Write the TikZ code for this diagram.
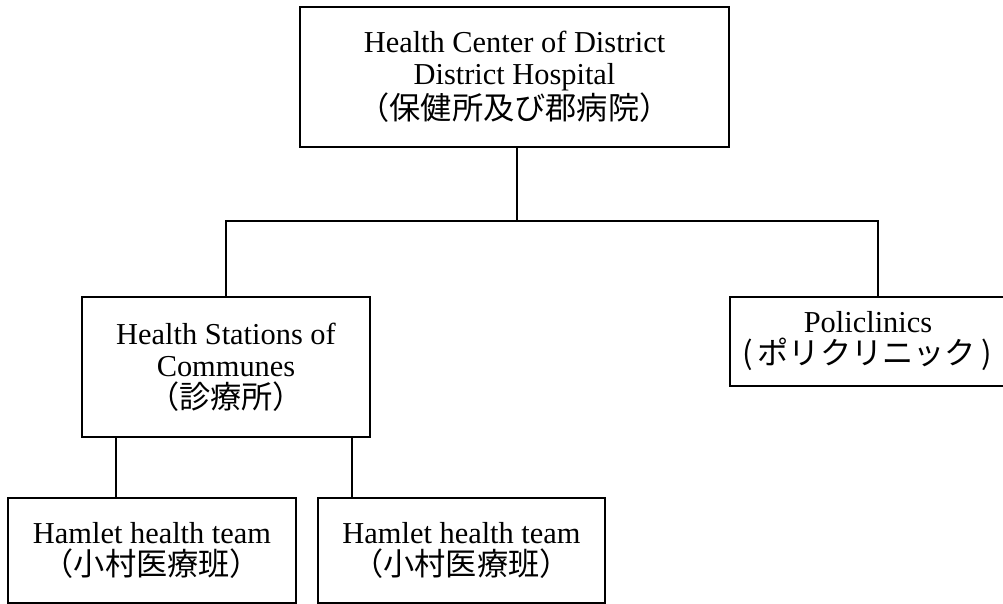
\documentclass[tikz,border=0pt]{standalone}
\usepackage{fontspec}
\setmainfont{Liberation Serif}
\newfontfamily\jpfont{Noto Sans CJK JP}
\newcommand{\jp}[1]{{\jpfont\fontsize{15.6}{16}\selectfont #1}}
\tikzset{
  label text/.style={inner sep=0pt, align=center, font=\fontsize{15.2}{16}\selectfont},
  orgbox/.style={label text, draw, line width=1.3pt},
  frame/.style={line width=1.3pt},
  link/.style={line width=1.1pt}
}
\begin{document}
\begin{tikzpicture}[x=0.5pt,y=-0.5pt]
\useasboundingbox (0,0) rectangle (1003,604);
\node[orgbox, minimum width=214.5pt, minimum height=70pt] (district) at (514.5,77) {Health Center of District\\District Hospital\\\jp{（保健所及び郡病院）}};
\node[orgbox, minimum width=144pt, minimum height=70pt] (station) at (226,367) {Health Stations of\\Communes\\\jp{（診療所）}};
\node[label text] (poli) at (868,341.5) {Policlinics\\\jp{\kern-1pt(\,ポリクリニック\,)}};
\draw[frame] (1008,297) -- (730,297) -- (730,386) -- (1008,386);
\node[orgbox, minimum width=144pt, minimum height=52.5pt] (teamA) at (152,550.5) {Hamlet health team\\\jp{（小村医療班）}};
\node[orgbox, minimum width=143.5pt, minimum height=52.5pt] (teamB) at (461.5,550.5) {Hamlet health team\\\jp{（小村医療班）}};
\coordinate (bus) at (517,221);
\coordinate (poliTop) at (878,297);
\coordinate (linkA) at (116,0);
\coordinate (linkB) at (352,0);
\draw[link] (bus |- district.south) -- (bus);
\draw[link] (station.north) |- (bus) -| (poliTop);
\draw[link] (station.south -| linkA) -- (teamA.north -| linkA);
\draw[link] (station.south -| linkB) -- (teamB.north -| linkB);
\end{tikzpicture}
\end{document}
